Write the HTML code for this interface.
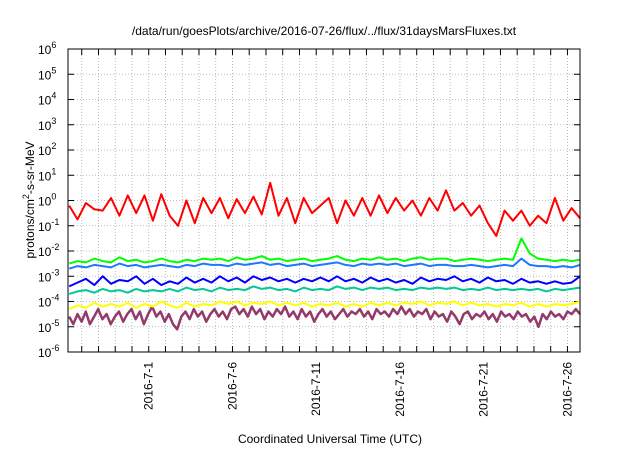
<!DOCTYPE html>
<html><head><meta charset="utf-8"><style>
body{margin:0;background:#fff}
svg text{font-family:"Liberation Sans",sans-serif;fill:#000}
</style></head><body>
<svg id="c" width="640" height="448"></svg>
<script>
const xTickLabels=["2016-7-1","2016-7-6","2016-7-11","2016-7-16","2016-7-21","2016-7-26"];
const xTickDays=[0,5,10,15,20,25];
const yExponents=[-6,-5,-4,-3,-2,-1,0,1,2,3,4,5,6];
const seriesStartDay=-4.75, seriesEndDay=25.75;
const redLog=[-0.2,-0.75,-0.1,-0.35,-0.4,0.1,-0.6,0.2,-0.5,0.2,-0.8,0.25,-0.6,-1.0,0.0,-0.9,0.1,-0.5,0.1,-0.7,0.05,-0.5,0.15,-0.55,0.7,-0.6,0.1,-0.9,0.1,-0.5,-0.2,0.1,-0.9,0.0,-0.6,0.1,-0.6,0.2,-0.5,0.1,-0.4,0.0,-0.6,0.1,-0.4,0.4,-0.4,-0.1,-0.6,-0.2,-0.9,-1.4,-0.4,-0.8,-0.4,-1.0,-0.6,-0.9,0.1,-0.8,-0.3,-0.7];
const greenLog=[-2.5,-2.4,-2.45,-2.3,-2.4,-2.45,-2.25,-2.4,-2.35,-2.45,-2.4,-2.3,-2.4,-2.45,-2.35,-2.4,-2.3,-2.35,-2.3,-2.4,-2.25,-2.35,-2.3,-2.2,-2.35,-2.3,-2.4,-2.35,-2.3,-2.4,-2.35,-2.3,-2.2,-2.35,-2.4,-2.3,-2.35,-2.25,-2.35,-2.3,-2.4,-2.3,-2.25,-2.35,-2.3,-2.3,-2.4,-2.35,-2.3,-2.35,-2.4,-2.35,-2.3,-2.35,-1.5,-2.1,-2.3,-2.35,-2.4,-2.35,-2.4,-2.35];
const lightBlueLog=[-2.7,-2.6,-2.65,-2.55,-2.6,-2.65,-2.5,-2.6,-2.55,-2.65,-2.6,-2.55,-2.6,-2.65,-2.55,-2.6,-2.5,-2.55,-2.55,-2.6,-2.5,-2.55,-2.5,-2.45,-2.55,-2.5,-2.6,-2.55,-2.5,-2.6,-2.55,-2.5,-2.45,-2.55,-2.6,-2.5,-2.55,-2.5,-2.55,-2.5,-2.6,-2.55,-2.5,-2.6,-2.55,-2.55,-2.6,-2.6,-2.55,-2.6,-2.65,-2.6,-2.55,-2.6,-2.3,-2.55,-2.6,-2.6,-2.65,-2.6,-2.65,-2.55];
const blueLog=[-3.4,-3.25,-3.1,-3.35,-3.0,-3.3,-3.15,-3.2,-3.0,-3.3,-3.1,-3.35,-3.2,-3.3,-3.05,-3.25,-3.1,-3.25,-3.0,-3.2,-3.05,-3.25,-3.0,-3.15,-3.05,-3.2,-3.1,-3.25,-3.1,-3.2,-3.05,-3.2,-3.0,-3.2,-3.1,-3.25,-3.05,-3.2,-3.1,-3.25,-3.15,-3.3,-3.05,-3.2,-3.1,-3.15,-3.0,-3.2,-3.1,-3.25,-3.05,-3.2,-3.15,-3.3,-3.1,-3.25,-3.2,-3.3,-3.2,-3.3,-3.25,-3.0];
const tealLog=[-3.7,-3.6,-3.55,-3.65,-3.5,-3.6,-3.55,-3.65,-3.5,-3.6,-3.55,-3.6,-3.5,-3.6,-3.45,-3.55,-3.5,-3.6,-3.45,-3.55,-3.5,-3.55,-3.4,-3.5,-3.45,-3.55,-3.5,-3.6,-3.45,-3.55,-3.5,-3.55,-3.4,-3.5,-3.45,-3.55,-3.45,-3.5,-3.45,-3.55,-3.5,-3.55,-3.45,-3.5,-3.45,-3.5,-3.45,-3.55,-3.5,-3.55,-3.45,-3.55,-3.5,-3.55,-3.5,-3.55,-3.5,-3.6,-3.5,-3.55,-3.5,-3.45];
const yellowLog=[-4.3,-4.15,-4.25,-4.05,-4.2,-4.1,-4.2,-4.05,-4.25,-4.1,-4.2,-4.0,-4.15,-4.25,-4.05,-4.2,-4.1,-4.15,-4.0,-4.1,-4.0,-4.15,-4.05,-4.1,-4.0,-4.15,-4.05,-4.15,-4.05,-4.2,-4.1,-4.15,-4.05,-4.2,-4.1,-4.2,-4.05,-4.15,-4.05,-4.15,-4.05,-4.1,-4.0,-4.15,-4.05,-4.1,-4.0,-4.15,-4.05,-4.15,-4.1,-4.2,-4.1,-4.15,-4.05,-4.2,-4.1,-4.2,-4.1,-4.15,-4.1,-4.0];
const purpleLog=[-4.6,-4.9,-4.5,-4.8,-4.4,-4.9,-4.6,-4.3,-4.7,-4.5,-4.9,-4.6,-4.4,-4.8,-4.5,-4.3,-4.7,-4.4,-4.9,-4.5,-4.2,-4.6,-4.4,-4.8,-4.5,-4.9,-5.1,-4.6,-4.4,-4.7,-4.3,-4.6,-4.4,-4.8,-4.5,-4.3,-4.6,-4.4,-4.7,-4.3,-4.2,-4.5,-4.3,-4.6,-4.2,-4.5,-4.3,-4.7,-4.4,-4.6,-4.3,-4.5,-4.2,-4.6,-4.4,-4.7,-4.3,-4.6,-4.4,-4.8,-4.5,-4.3,-4.6,-4.4,-4.7,-4.5,-4.3,-4.6,-4.4,-4.5,-4.3,-4.6,-4.4,-4.7,-4.3,-4.5,-4.4,-4.6,-4.3,-4.5,-4.2,-4.5,-4.3,-4.6,-4.4,-4.5,-4.3,-4.7,-4.4,-4.6,-4.5,-4.8,-4.4,-4.6,-4.9,-4.5,-4.4,-4.7,-4.5,-4.6,-4.4,-4.7,-4.5,-4.8,-4.4,-4.6,-4.5,-4.7,-4.4,-4.6,-4.5,-4.8,-4.6,-5.0,-4.5,-4.7,-4.4,-4.6,-4.5,-4.7,-4.4,-4.5,-4.3,-4.5];
const seriesList=[["purple",purpleLog,"#943a6a"],["yellow",yellowLog,"#ffff00"],["teal",tealLog,"#00c896"],["blue",blueLog,"#0000ff"],["light-blue",lightBlueLog,"#1e78ff"],["green",greenLog,"#00ff00"],["red",redLog,"#ff0000"]];

const L=68,R=580,T=49,B=352;
const dayMin=-4.82, dayMax=25.75;
const xS=d=>L+(d-dayMin)/(dayMax-dayMin)*(R-L);
const yS=e=>B-(e+6)/12*(B-T);
const NS="http://www.w3.org/2000/svg";
const svg=document.getElementById('c');
function mk(t,a,p){const e=document.createElementNS(NS,t);for(const k in a)e.setAttribute(k,a[k]);(p||svg).appendChild(e);return e;}

yExponents.forEach(ex=>{
  const y=yS(ex);
  if(ex>-6&&ex<6){const g=mk('line',{x1:L,x2:R,y1:y,y2:y,stroke:'#aaa','stroke-width':0.8,'stroke-dasharray':'1,2'});
  
  }
  mk('line',{x1:L,x2:L+6,y1:y,y2:y,stroke:'#000'});
  mk('line',{x1:R-6,x2:R,y1:y,y2:y,stroke:'#000'});
  const t=mk('text',{x:L-30,y:y+5,'font-size':12});
  
  
  t.textContent='10';
  const s=mk('tspan',{dy:-6,'font-size':9},t);s.textContent=String(ex);
});
for(let d=Math.ceil(dayMin);d<=dayMax;d++){
  const x=xS(d);
  const g=mk('line',{x1:x,x2:x,y1:T,y2:B,stroke:'#aaa','stroke-width':0.8,'stroke-dasharray':'1,2'});
  
  
  mk('line',{x1:x,x2:x,y1:B,y2:B-6,stroke:'#000'});
  mk('line',{x1:x,x2:x,y1:T,y2:T+6,stroke:'#000'});
}
xTickDays.forEach((d,i)=>{
  const x=xS(d)+4;
  const t=mk('text',{x:0,y:0,'font-size':12,'text-anchor':'end',transform:`translate(${x},${B+10}) rotate(-90)`});
  
  
  t.textContent=xTickLabels[i];
});
seriesList.forEach(([name,arr,col])=>{
  const n=arr.length;
  const pts=arr.map((v,i)=>{const d=seriesStartDay+i*(seriesEndDay-seriesStartDay)/(n-1);return xS(d).toFixed(1)+','+yS(v).toFixed(1);}).join(' ');
  const p=mk('polyline',{points:pts,fill:'none',stroke:col,'stroke-width':name==='purple'?2.5:2,'stroke-linejoin':'round'});
  
  
});
const fr=mk('rect',{x:L,y:T,width:R-L,height:B-T,fill:'none',stroke:'#000','stroke-width':1});


const tt=mk('text',{x:324,y:35,'font-size':12,'text-anchor':'middle'});


tt.textContent='/data/run/goesPlots/archive/2016-07-26/flux/../flux/31daysMarsFluxes.txt';
const xt=mk('text',{x:330,y:443,'font-size':12,'text-anchor':'middle'});


xt.textContent='Coordinated Universal Time (UTC)';
const yt=mk('text',{x:0,y:0,'font-size':12,'text-anchor':'middle',transform:'translate(34,200) rotate(-90)'});


yt.textContent='protons/cm';
const sup=mk('tspan',{dy:-5,'font-size':9},yt);sup.textContent='2';
const rest=mk('tspan',{dy:5},yt);rest.textContent='-s-sr-MeV';
</script>
</body></html>
